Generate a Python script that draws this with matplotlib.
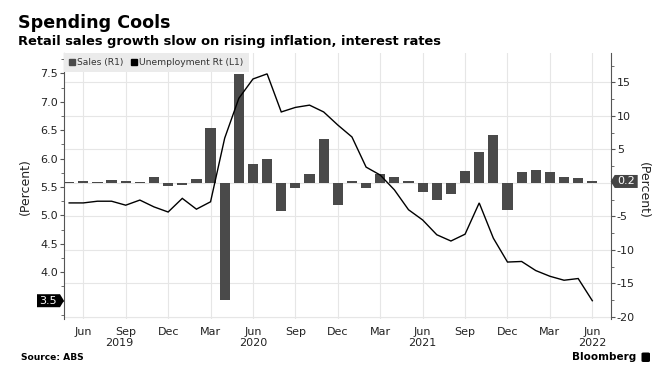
import matplotlib
matplotlib.use('Agg')
import matplotlib.pyplot as plt
import matplotlib.transforms as mtransforms
from matplotlib.patches import Polygon, FancyBboxPatch
from matplotlib.lines import Line2D
from matplotlib.ticker import MultipleLocator, FixedLocator
import numpy as np

plt.rcParams['font.family'] = ['DejaVu Sans']

# ---------------- data ----------------
months = ['2019-05', '2019-06', '2019-07', '2019-08', '2019-09', '2019-10', '2019-11', '2019-12',
          '2020-01', '2020-02', '2020-03', '2020-04', '2020-05', '2020-06', '2020-07', '2020-08',
          '2020-09', '2020-10', '2020-11', '2020-12',
          '2021-01', '2021-02', '2021-03', '2021-04', '2021-05', '2021-06', '2021-07', '2021-08',
          '2021-09', '2021-10', '2021-11', '2021-12',
          '2022-01', '2022-02', '2022-03', '2022-04', '2022-05', '2022-06']

unemployment = [5.22, 5.22, 5.25, 5.25, 5.18, 5.27, 5.15, 5.06,
                5.30, 5.11, 5.24, 6.36, 7.06, 7.40, 7.49, 6.82, 6.90, 6.94, 6.82, 6.59,
                6.38, 5.85, 5.71, 5.45, 5.10, 4.92, 4.66, 4.55, 4.67, 5.22, 4.60, 4.18,
                4.19, 4.03, 3.93, 3.86, 3.89, 3.50]

sales = [0.1, 0.3, 0.1, 0.4, 0.2, 0.1, 0.9, -0.5,
         -0.4, 0.5, 8.2, -17.5, 16.3, 2.8, 3.6, -4.2, -0.8, 1.3, 6.6, -3.3,
         0.3, -0.8, 1.3, 0.8, 0.2, -1.4, -2.6, -1.7, 1.7, 4.6, 7.2, -4.1,
         1.6, 1.9, 1.6, 0.9, 0.7, 0.2]

tick_months = ['2019-06', '2019-09', '2019-12', '2020-03', '2020-06', '2020-09', '2020-12',
               '2021-03', '2021-06', '2021-09', '2021-12', '2022-03', '2022-06']
tick_labels = ['Jun', 'Sep', 'Dec', 'Mar', 'Jun', 'Sep', 'Dec', 'Mar', 'Jun', 'Sep', 'Dec', 'Mar', 'Jun']
years = ['2019', '2020', '2021', '2022']

left_ticks = [3.5, 4.0, 4.5, 5.0, 5.5, 6.0, 6.5, 7.0, 7.5]
right_ticks = [-20, -15, -10, -5, 0, 5, 10, 15]

title = 'Spending Cools'
subtitle = 'Retail sales growth slow on rising inflation, interest rates'

# ---------------- style ----------------
bar_color = '#4a4a4a'
grid_color = '#e6e6e6'
spine_color = '#555555'
text_color = '#222222'

W, H = 659, 371
fig = plt.figure(figsize=(W / 100, H / 100), dpi=100)
ax_l, ax_r, ax_t, ax_b = 64, 610.7, 53, 318.5
ax = fig.add_axes([ax_l / W, 1 - ax_b / H, (ax_r - ax_l) / W, (ax_b - ax_t) / H])
ax2 = ax.twinx()

x = np.arange(len(months))

ax2.bar(x, sales, width=0.72, color=bar_color, zorder=2)
ax.plot(x, unemployment, color='black', lw=1.0, zorder=3, solid_joinstyle='miter')

ax.set_zorder(ax2.get_zorder() + 1)
ax.patch.set_visible(False)

ax.set_xlim(-0.365, len(months) - 1 + 1.3)
ax.set_ylim(3.187, 7.857)
ax2.set_ylim(-20.26, 19.38)

# grid from right axis
ax2.yaxis.set_major_locator(FixedLocator(right_ticks))
ax2.yaxis.set_minor_locator(MultipleLocator(2.5))
ax2.grid(axis='y', color=grid_color, lw=0.8, zorder=0)
tick_idx = [months.index(m) for m in tick_months]
ax.set_xticks(tick_idx)
ax.set_xticklabels(tick_labels)
for t in tick_idx:
    ax2.axvline(t, color=grid_color, lw=0.8, zorder=0)

ax.tick_params(axis='x', length=0, pad=6, labelsize=8, labelcolor=text_color)

ax.yaxis.set_major_locator(FixedLocator(left_ticks))
ax.yaxis.set_minor_locator(MultipleLocator(0.25))
ax.set_yticklabels(['' if v == 3.5 else f'{v:.1f}' for v in left_ticks])
ax.tick_params(axis='y', which='major', length=3, width=0.8, color=spine_color,
               labelsize=8, labelcolor=text_color, pad=1.5)
ax.tick_params(axis='y', which='minor', length=2, width=0.6, color=spine_color)

ax2.set_yticklabels(['' if v == 0 else f'{v}' for v in right_ticks])
ax2.tick_params(axis='y', which='major', length=3, width=0.8, color=spine_color,
                labelsize=8, labelcolor=text_color, pad=1.5)
ax2.tick_params(axis='y', which='minor', length=2, width=0.6, color=spine_color)

for a in (ax, ax2):
    a.spines['top'].set_visible(False)
    a.spines['bottom'].set_visible(False)
ax.spines['right'].set_visible(False)
ax2.spines['left'].set_visible(False)
ax.spines['left'].set_color(spine_color)
ax.spines['left'].set_linewidth(0.8)
ax2.spines['right'].set_color(spine_color)
ax2.spines['right'].set_linewidth(0.8)
ax2.axhline(ax2.get_ylim()[0], color=grid_color, lw=0.8)

# year labels
year_trans = mtransforms.blended_transform_factory(ax.transData, fig.transFigure)
xlo, xhi = ax.get_xlim()
for yr in years:
    idx = [i for i, m in enumerate(months) if m.startswith(yr)]
    lo = max(idx[0] - 0.5, xlo)
    hi = min(idx[-1] + 0.5, xhi)
    if idx[0] - 0.5 >= xlo and idx[-1] + 0.5 <= xhi:
        pos = months.index(yr + '-06')
    else:
        pos = (lo + hi) / 2
    fig.text(pos, 1 - 343.5 / H, yr, transform=year_trans, ha='center', va='center',
             fontsize=8, color=text_color)

# legend
handles = [Line2D([], [], marker='s', ls='none', color=bar_color, markersize=4.5),
           Line2D([], [], marker='s', ls='none', color='black', markersize=4.5)]
leg = ax.legend(handles, ['Sales (R1)', 'Unemployment Rt (L1)'], loc='upper left',
                bbox_to_anchor=(0, 1), ncol=2, frameon=True, fancybox=False,
                facecolor='#ebebeb', edgecolor='none', framealpha=1, fontsize=6.6,
                handlelength=0.6, handletextpad=0.25, columnspacing=0.9,
                borderaxespad=0, borderpad=0.55)
for t in leg.get_texts():
    t.set_color('#333333')

# axis titles
fig.text(25 / W, 1 - 187 / H, '(Percent)', rotation=90, ha='center', va='center',
         fontsize=9, color=text_color)
fig.text(643 / W, 1 - 190 / H, '(Percent)', rotation=270, ha='center', va='center',
         fontsize=9, color=text_color)


# value tags
def value_tag(axis, yval, label, side, fc):
    anchor = mtransforms.blended_transform_factory(axis.transAxes, axis.transData)
    x0 = 0 if side == 'left' else 1
    trans = mtransforms.Affine2D() + mtransforms.ScaledTranslation(x0, yval, anchor)
    s = -1 if side == 'left' else 1
    hh, tip, body = 6.5, 4, 27
    verts = [(0, 0), (s * tip, hh), (s * body, hh), (s * body, -hh), (s * tip, -hh)]
    poly = Polygon(verts, closed=True, transform=trans, facecolor=fc, edgecolor='none',
                   zorder=10, clip_on=False)
    fig.add_artist(poly)
    fig.text(s * (tip + body) / 2, 0, label, transform=trans, ha='center', va='center',
             fontsize=8, color='white', zorder=11)


value_tag(ax, unemployment[-1], f'{unemployment[-1]:.1f}', 'left', 'black')
value_tag(ax2, sales[-1], f'{sales[-1]:.1f}', 'right', '#444444')

# titles
fig.text(18 / W, 1 - 28 / H, title, ha='left', va='baseline', fontsize=12.6,
         fontweight='bold', color='black')
fig.text(18 / W, 1 - 44.5 / H, subtitle, ha='left', va='baseline', fontsize=9.4,
         fontweight='bold', color='black')

# footer
fig.text(21 / W, 1 - 358 / H, 'Source: ABS', ha='left', va='center', fontsize=6.6,
         fontweight='bold', color='black')
fig.text(636 / W, 1 - 357.5 / H, 'Bloomberg', ha='right', va='center', fontsize=7.5,
         fontweight='bold', color='black')
icon = FancyBboxPatch((641.5 / W, 1 - 362 / H), 8.5 / W, 9.5 / H,
                      boxstyle='round,pad=0,rounding_size=0.003', transform=fig.transFigure,
                      facecolor='black', edgecolor='none')
fig.add_artist(icon)

fig.savefig('out.png', dpi=100)
